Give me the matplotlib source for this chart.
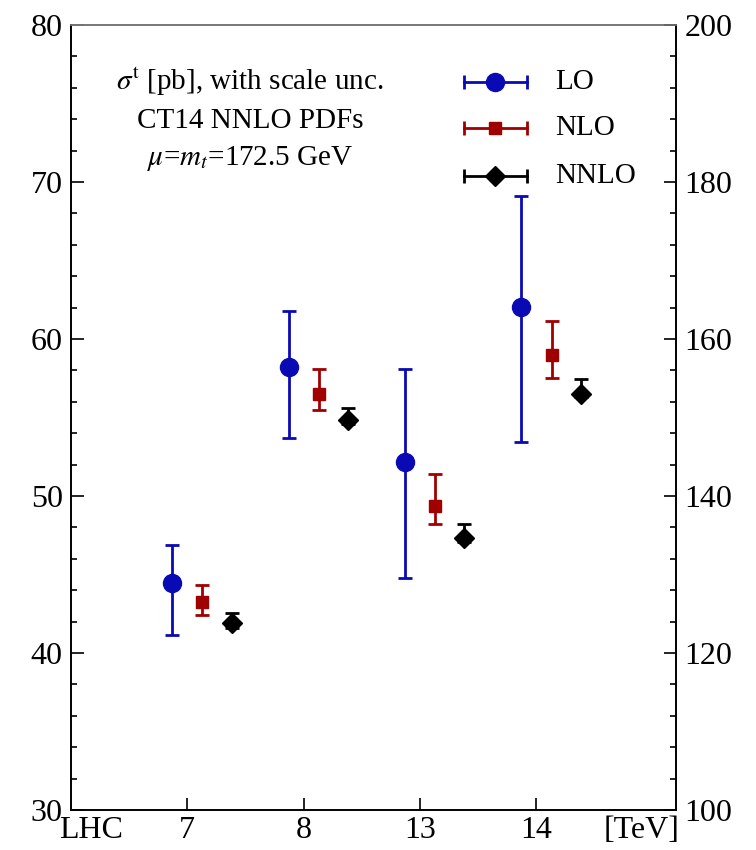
#!/usr/bin/env python3
"""Top-quark t-channel cross sections at the LHC, LO / NLO / NNLO with scale uncertainty."""
import matplotlib
matplotlib.use('Agg')
import matplotlib.pyplot as plt
from matplotlib.ticker import MultipleLocator, FixedLocator
from matplotlib.transforms import blended_transform_factory

plt.rcParams.update({
    'font.family': ['Liberation Serif', 'DejaVu Serif'],
    'mathtext.fontset': 'stix',
    'font.size': 22,
})

# ------------------------------------------------------------
# Data: sigma [pb]; 7 and 8 TeV read on left axis, 13 and 14 on right axis
# ------------------------------------------------------------
energies = ['7', '8', '13', '14']
use_right = [False, False, True, True]

lo = [44.45, 58.2, 144.3, 164.1]
lo_hi = [46.9, 61.8, 156.2, 178.2]
lo_lo = [41.15, 53.7, 129.6, 146.9]

nlo = [43.25, 56.5, 138.7, 157.9]
nlo_hi = [44.35, 58.1, 142.8, 162.3]
nlo_lo = [42.45, 55.5, 136.4, 155.0]

nnlo = [41.9, 54.85, 134.6, 153.0]
nnlo_hi = [42.55, 55.6, 136.4, 154.9]
nnlo_lo = [41.6, 54.6, 134.2, 152.6]

c_lo = '#0a0ab4'
c_nlo = '#a00000'
c_nnlo = 'black'

series = [
    ('LO', lo, lo_hi, lo_lo, c_lo, 'o', 13, -0.13),
    ('NLO', nlo, nlo_hi, nlo_lo, c_nlo, 's', 9, 0.13),
    ('NNLO', nnlo, nnlo_hi, nnlo_lo, c_nnlo, 'D', 10, 0.38),
]

fig = plt.figure(figsize=(7.56, 8.5), dpi=100)
ax = fig.add_axes([71 / 756, 40 / 850, 605 / 756, 785 / 850])
ax2 = ax.twinx()

ax.set_xlim(0, 5.2)
ax.set_ylim(30, 80)
ax2.set_ylim(100, 200)

for name, val, hi, low, col, mk, ms, off in series:
    for i, e in enumerate(energies):
        target = ax2 if use_right[i] else ax
        target.errorbar([i + 1 + off], [val[i]],
                        yerr=[[val[i] - low[i]], [hi[i] - val[i]]],
                        fmt=mk, color=col, ms=ms, elinewidth=2, capsize=5,
                        capthick=2, zorder=3)

# axes styling
for a in (ax, ax2):
    for sp in a.spines.values():
        sp.set_linewidth(1.2)
    a.spines['top'].set_color('#777777')
ax.yaxis.set_major_locator(MultipleLocator(10))
ax.yaxis.set_minor_locator(MultipleLocator(2))
ax2.yaxis.set_major_locator(MultipleLocator(20))
ax2.yaxis.set_minor_locator(MultipleLocator(4))
ax.xaxis.set_major_locator(FixedLocator([1, 2, 3, 4]))
ax.set_xticklabels(energies)
ax.tick_params(axis='both', which='major', direction='in', length=9, width=1.2,
               labelsize=23, pad=6)
ax.tick_params(axis='y', which='minor', direction='in', length=4, width=1.2)
ax.tick_params(axis='x', which='major', pad=4)
ax2.tick_params(axis='y', which='major', direction='in', length=9, width=1.2,
                labelsize=23, pad=6)
ax2.tick_params(axis='y', which='minor', direction='in', length=4, width=1.2)

tr = blended_transform_factory(ax.transData, ax.transAxes)
ax.text(0.17, -0.008, 'LHC', transform=tr, ha='center', va='top', fontsize=23)
ax.text(4.9, -0.008, '[TeV]', transform=tr, ha='center', va='top', fontsize=23)

# annotation block
ax.text(0.296, 0.927, r'$\sigma^{\rm t}$ [pb], with scale unc.', transform=ax.transAxes,
        ha='center', va='center', fontsize=21)
ax.text(0.296, 0.878, 'CT14 NNLO PDFs', transform=ax.transAxes,
        ha='center', va='center', fontsize=21)
ax.text(0.296, 0.830, r'$\mu$=$m_t$=172.5 GeV', transform=ax.transAxes,
        ha='center', va='center', fontsize=21)

# hand-drawn legend (horizontal error bars)
leg_y = [0.927, 0.869, 0.808]
for (name, val, hi, low, col, mk, ms, off), y in zip(series, leg_y):
    ax.plot([0.649, 0.753], [y, y], color=col, lw=2, transform=ax.transAxes, zorder=4)
    ax.plot([0.649, 0.753], [y, y], ls='none', marker='|', ms=10, mew=2,
            color=col, transform=ax.transAxes, zorder=4)
    ax.plot([0.70], [y], marker=mk, ms=ms, color=col, transform=ax.transAxes, zorder=5)
    ax.text(0.80, y, name, transform=ax.transAxes, ha='left', va='center', fontsize=21)

fig.savefig('out.png', dpi=100)
plt.close(fig)
